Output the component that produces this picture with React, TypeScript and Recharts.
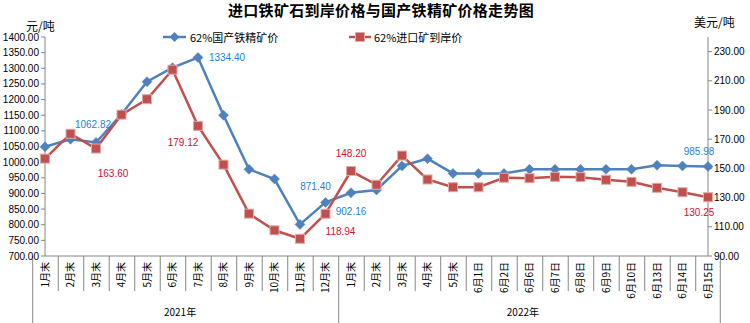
import { ComposedChart, Line, XAxis, YAxis, LabelList } from "recharts";

// 月末 / 日 categories, 2021 then 2022
const categories = [
  "1月末", "2月末", "3月末", "4月末", "5月末", "6月末",
  "7月末", "8月末", "9月末", "10月末", "11月末", "12月末",
  "1月末", "2月末", "3月末", "4月末", "5月末",
  "6月1日", "6月2日", "6月6日", "6月7日", "6月8日",
  "6月9日", "6月10日", "6月13日", "6月14日", "6月15日",
];

// 62%国产铁精矿价 (元/吨, left axis)
const domesticPrice = [
  1049, 1073, 1062.82, 1153, 1257, 1302,
  1334.4, 1150, 977, 946, 801, 871.4,
  902.16, 911, 988, 1011, 964,
  964, 964, 977, 977, 977,
  977, 977, 990, 988, 985.98,
];

// 62%进口矿到岸价 (美元/吨, right axis)
const importPrice = [
  156.7, 173.7, 163.6, 186.8, 197.4, 217.6,
  179.12, 152.6, 119.0, 107.6, 101.8, 118.94,
  148.2, 138.8, 158.8, 142.4, 137.1,
  137.1, 143.6, 143.3, 144.2, 144.0,
  142.2, 140.8, 136.7, 133.7, 130.25,
];

const yearGroups = [
  { label: "2021年", start: 0, count: 12 },
  { label: "2022年", start: 12, count: 15 },
];

const leftTicks = [700, 750, 800, 850, 900, 950, 1000, 1050, 1100, 1150, 1200, 1250, 1300, 1350, 1400];
const rightTicks = [90, 110, 130, 150, 170, 190, 210, 230];

const data = categories.map((c, i) => ({
  key: String(i),
  name: c,
  domestic: domesticPrice[i],
  imported: importPrice[i],
}));

const BLUE = "#4f81bd";
const RED = "#c0504d";
const AXIS = "#868686";
const NUM_FONT = "'Liberation Sans', Arial, sans-serif";
const CJK_FONT = "'Noto Sans CJK SC', 'Liberation Sans', sans-serif";

// which points carry a value label, and where it sits relative to the point
const domesticLabels: Record<number, [number, number]> = {
  2: [-3, -18],
  6: [29, 0],
  11: [-10, -16],
  12: [0, 19],
  26: [-9, -15],
};
const importLabels: Record<number, [number, number]> = {
  2: [17, 25],
  6: [-15, 17],
  11: [15, 18],
  12: [0, -18],
  26: [-9, 15],
};

const makeLabel = (offsets: Record<number, [number, number]>, color: string) => (props: any) => {
  const { x, y, value, index } = props;
  const off = offsets[index];
  if (!off) return null;
  return (
    <text
      key={"lb" + index}
      x={x + off[0]}
      y={y + off[1]}
      textAnchor="middle"
      dominantBaseline="central"
      fontSize={10}
      fontFamily={NUM_FONT}
      fill={color}
    >
      {Number(value).toFixed(2)}
    </text>
  );
};

const Diamond = (props: any) => {
  const { cx, cy, index } = props;
  if (cx == null || cy == null) return null;
  return (
    <path
      key={"d" + index}
      d={`M${cx},${cy - 5} L${cx + 5},${cy} L${cx},${cy + 5} L${cx - 5},${cy} Z`}
      fill={BLUE}
      stroke={BLUE}
      strokeWidth={0.5}
    />
  );
};

const Square = (props: any) => {
  const { cx, cy, index } = props;
  if (cx == null || cy == null) return null;
  return (
    <rect
      key={"s" + index}
      x={cx - 4.5}
      y={cy - 4.5}
      width={9}
      height={9}
      fill={RED}
      stroke="#e3a9a7"
      strokeWidth={1}
    />
  );
};

const CategoryTick = (props: any) => {
  const { x, y, payload, index } = props;
  const half = payload && payload.offset ? payload.offset : (750 - 45 - 42) / categories.length / 2;
  const group = yearGroups.find((g) => g.start === index);
  const isLast = index === categories.length - 1;
  const label = categories[index];
  return (
    <g>
      <line
        x1={x - half}
        x2={x - half}
        y1={y}
        y2={group ? y + 70 : y + 35}
        stroke={AXIS}
        strokeWidth={1}
      />
      {isLast && (
        <line x1={x + half} x2={x + half} y1={y} y2={y + 70} stroke={AXIS} strokeWidth={1} />
      )}
      <text
        x={x}
        y={y + 6}
        transform={`rotate(-90, ${x}, ${y + 6})`}
        textAnchor="end"
        dy="0.35em"
        fontSize={10}
        fontFamily={CJK_FONT}
        fill="#000"
      >
        {label}
      </text>
      {group && (
        <text
          x={x - half + group.count * half}
          y={y + 60}
          textAnchor="middle"
          fontSize={10}
          fontFamily={CJK_FONT}
          fill="#000"
        >
          {group.label}
        </text>
      )}
    </g>
  );
};

export default function App() {
  return (
    <div
      style={{
        position: "absolute",
        left: 0,
        top: 0,
        width: 750,
        height: 323,
        background: "#fff",
        overflow: "hidden",
      }}
    >
      <div
        style={{
          position: "absolute",
          left: 228,
          top: 0,
          fontFamily: CJK_FONT,
          fontWeight: "bold",
          fontSize: 15,
          lineHeight: "19px",
          letterSpacing: 0.3,
          whiteSpace: "nowrap",
          color: "#000",
        }}
      >
        进口铁矿石到岸价格与国产铁精矿价格走势图
      </div>
      <div
        style={{
          position: "absolute",
          left: 26,
          top: 19,
          fontFamily: CJK_FONT,
          fontSize: 12,
          lineHeight: "13px",
          whiteSpace: "nowrap",
        }}
      >
        元/吨
      </div>
      <div
        style={{
          position: "absolute",
          left: 694,
          top: 15,
          fontFamily: CJK_FONT,
          fontSize: 12,
          lineHeight: "14px",
          whiteSpace: "nowrap",
        }}
      >
        美元/吨
      </div>

      {/* legend */}
      <svg style={{ position: "absolute", left: 0, top: 28 }} width={750} height={18}>
        <line x1={163} x2={186} y1={9} y2={9} stroke={BLUE} strokeWidth={2.5} />
        <path d="M174.5,4 L179.5,9 L174.5,14 L169.5,9 Z" fill={BLUE} />
        <text x={190} y={9} dominantBaseline="central" fontSize={11} fontFamily={CJK_FONT} fill="#000">
          62%国产铁精矿价
        </text>
        <line x1={349} x2={371} y1={9} y2={9} stroke={RED} strokeWidth={2.5} />
        <rect x={355.5} y={4.5} width={9} height={9} fill={RED} stroke="#e3a9a7" strokeWidth={1} />
        <text x={374} y={9} dominantBaseline="central" fontSize={11} fontFamily={CJK_FONT} fill="#000">
          62%进口矿到岸价
        </text>
      </svg>

      <div style={{ position: "absolute", left: 0, top: 0 }}>
        <ComposedChart
          width={750}
          height={323}
          data={data}
          margin={{ top: 37, right: 0, bottom: 0, left: 0 }}
        >
          <XAxis
            dataKey="key"
            height={67}
            interval={0}
            tickLine={false}
            tickSize={0}
            tickMargin={0}
            axisLine={{ stroke: AXIS }}
            tick={<CategoryTick />}
          />
          <YAxis
            yAxisId="l"
            width={45}
            domain={[700, 1400]}
            ticks={leftTicks}
            interval={0}
            tickFormatter={(v: number) => v.toFixed(2)}
            tick={{ fontSize: 10, fill: "#000", fontFamily: NUM_FONT }}
            tickSize={4}
            tickMargin={2}
            axisLine={{ stroke: AXIS }}
            tickLine={{ stroke: AXIS }}
          />
          <YAxis
            yAxisId="r"
            orientation="right"
            width={42}
            domain={[90, 240]}
            ticks={rightTicks}
            interval={0}
            tickFormatter={(v: number) => v.toFixed(2)}
            tick={{ fontSize: 10, fill: "#000", fontFamily: NUM_FONT }}
            tickSize={4}
            tickMargin={2}
            axisLine={{ stroke: AXIS }}
            tickLine={{ stroke: AXIS }}
          />
          <Line
            yAxisId="l"
            dataKey="domestic"
            stroke={BLUE}
            strokeWidth={2.5}
            dot={(p: any) => <Diamond {...p} key={"d" + p.index} />}
            activeDot={false}
            isAnimationActive={false}
          >
            <LabelList dataKey="domestic" content={makeLabel(domesticLabels, "#1f7fd8")} />
          </Line>
          <Line
            yAxisId="r"
            dataKey="imported"
            stroke={RED}
            strokeWidth={2.5}
            dot={(p: any) => <Square {...p} key={"s" + p.index} />}
            activeDot={false}
            isAnimationActive={false}
          >
            <LabelList dataKey="imported" content={makeLabel(importLabels, "#cc1133")} />
          </Line>
        </ComposedChart>
      </div>
    </div>
  );
}
